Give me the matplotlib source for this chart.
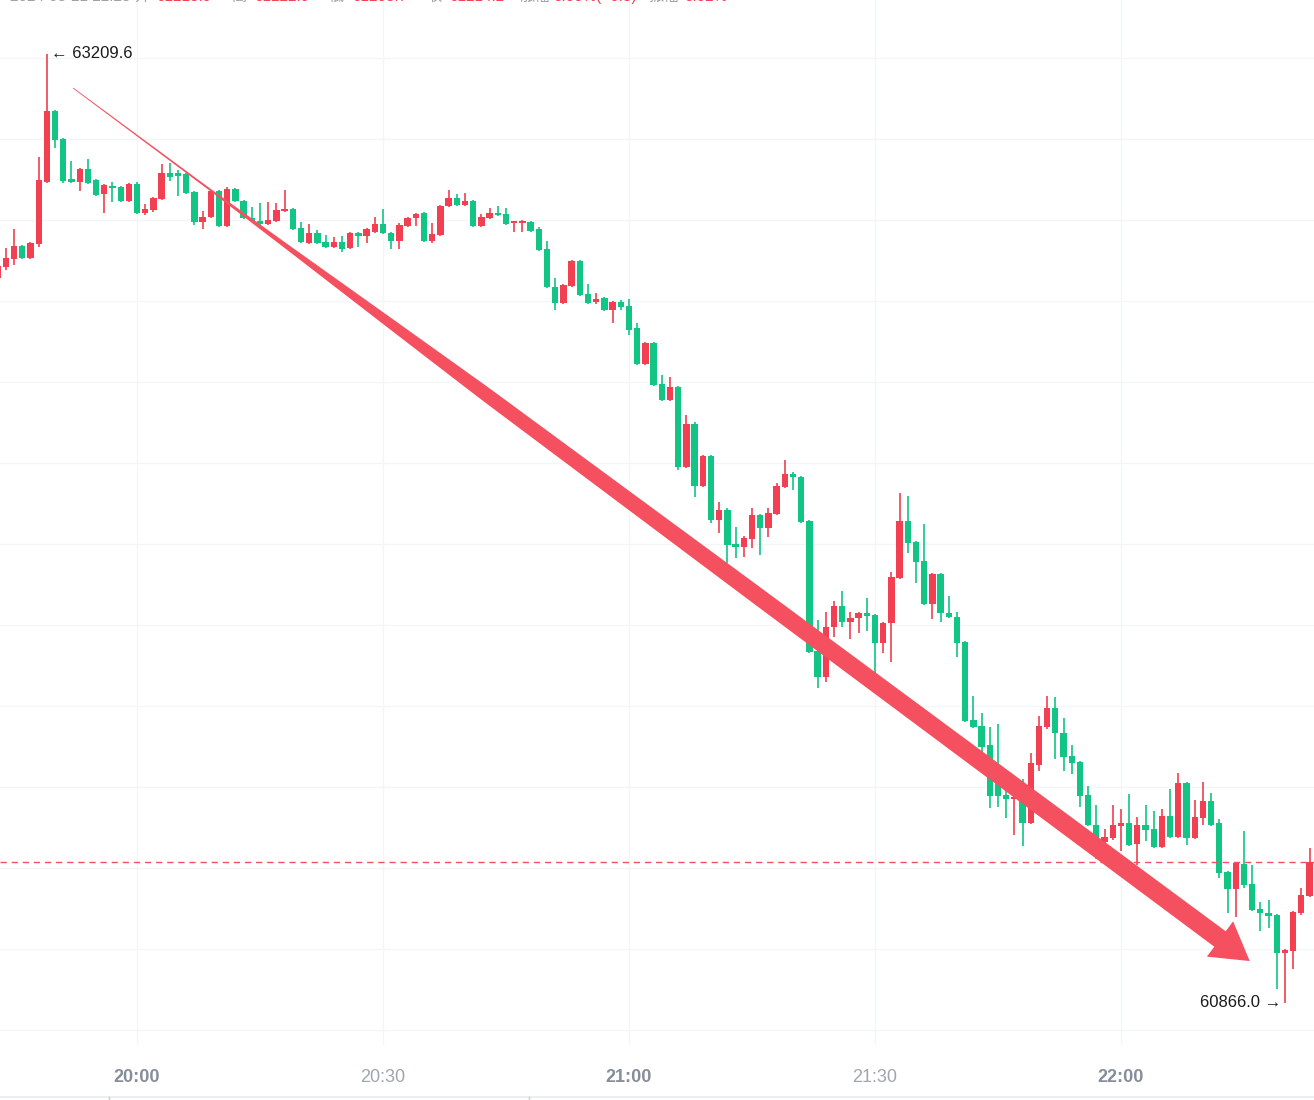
import numpy as np
import pandas as pd
import matplotlib
matplotlib.use('Agg')
from matplotlib import pyplot as plt
from matplotlib.patches import Polygon
from matplotlib.transforms import IdentityTransform

# 1-minute candles, 19:43 .. 22:23
times = pd.date_range('2024-03-21 19:43', '2024-03-21 22:23', freq='1min')

open_ = [62656.3, 62683.5, 62703.3, 62735.4, 62705.7, 62740.3, 62893.5, 63068.8, 62999.7, 62900.9,
         62893.5, 62925.6, 62898.4, 62863.8, 62883.5, 62881.0, 62846.5, 62888.5, 62816.9, 62824.3,
         62851.5, 62915.7, 62915.7, 62913.2, 62868.8, 62794.7, 62807.0, 62871.2, 62784.8, 62876.2,
         62846.5, 62804.5, 62797.1, 62789.8, 62797.1, 62821.8, 62826.8, 62779.8, 62742.8, 62767.5,
         62745.3, 62732.9, 62745.3, 62730.4, 62767.5, 62760.1, 62770.0, 62789.8, 62767.5, 62747.7,
         62784.8, 62804.5, 62816.9, 62747.7, 62762.6, 62834.2, 62853.9, 62836.7, 62846.5, 62784.8,
         62804.5, 62816.9, 62814.4, 62792.2, 62792.2, 62794.7, 62777.4, 62728.0, 62634.1, 62594.6,
         62636.6, 62698.3, 62616.8, 62597.1, 62606.9, 62577.3, 62597.1, 62587.2, 62532.8, 62443.9,
         62495.8, 62394.5, 62355.0, 62387.1, 62189.5, 62295.7, 62142.6, 62216.7, 62058.6, 62083.3,
         61999.3, 61991.9, 62011.7, 62070.9, 62038.8, 62073.4, 62140.1, 62172.2, 62164.8, 62056.1,
         61735.0, 61670.8, 61794.3, 61846.2, 61806.7, 61816.5, 61828.9, 61824.0, 61754.8, 61804.2,
         61915.4, 62056.1, 62004.3, 61957.3, 61851.1, 61925.2, 61828.9, 61819.1, 61757.3, 61564.6,
         61549.8, 61502.9, 61416.4, 61379.4, 61369.5, 61369.5, 61310.2, 61453.5, 61547.3, 61594.2,
         61532.5, 61475.7, 61460.9, 61379.4, 61305.3, 61263.3, 61273.1, 61302.8, 61310.2, 61258.3,
         61305.3, 61295.4, 61250.9, 61327.5, 61275.6, 61409.0, 61273.1, 61322.5, 61364.5, 61310.2,
         61189.2, 61147.2, 61209.0, 61159.5, 61097.8, 61087.9, 61083.0, 60989.1, 60994.0, 61087.9,
         61129.9]
high = [62695.9, 62730.4, 62777.4, 62737.8, 62745.3, 62955.2, 63209.6, 63071.3, 63002.1, 62945.3,
        62928.0, 62950.3, 62900.9, 62888.5, 62893.5, 62883.5, 62891.0, 62893.5, 62839.1, 62856.4,
        62937.9, 62940.4, 62923.1, 62915.7, 62871.2, 62821.8, 62873.7, 62873.7, 62881.1, 62878.6,
        62849.0, 62831.7, 62841.6, 62844.1, 62841.6, 62873.7, 62829.2, 62794.7, 62789.8, 62774.9,
        62762.6, 62757.6, 62760.1, 62770.0, 62769.0, 62779.8, 62807.0, 62826.8, 62770.0, 62792.2,
        62807.0, 62816.9, 62819.4, 62792.2, 62836.7, 62873.7, 62863.8, 62866.3, 62849.0, 62814.4,
        62829.2, 62834.2, 62829.2, 62798.0, 62799.6, 62797.1, 62782.3, 62747.7, 62656.3, 62641.5,
        62700.8, 62700.8, 62641.5, 62619.3, 62609.4, 62599.5, 62602.0, 62604.5, 62545.2, 62498.3,
        62498.3, 62416.8, 62411.8, 62389.6, 62317.9, 62300.7, 62219.2, 62219.2, 62103.1, 62088.2,
        62041.3, 62019.1, 62088.2, 62073.4, 62088.2, 62150.0, 62206.8, 62177.2, 62167.3, 62058.6,
        61811.6, 61831.4, 61858.5, 61883.2, 61831.4, 61831.4, 61865.9, 61826.4, 61806.7, 61930.2,
        62125.3, 62117.9, 62006.7, 62048.7, 61927.7, 61927.7, 61870.9, 61831.4, 61759.7, 61623.9,
        61581.9, 61547.3, 61554.7, 61394.2, 61376.9, 61418.9, 61483.1, 61574.5, 61623.9, 61621.4,
        61569.5, 61502.9, 61463.3, 61401.6, 61354.7, 61295.4, 61354.7, 61344.8, 61381.8, 61325.0,
        61354.7, 61339.8, 61344.8, 61394.2, 61433.7, 61411.5, 61367.0, 61411.5, 61384.3, 61320.1,
        61191.6, 61213.9, 61290.4, 61206.5, 61115.1, 61120.0, 61085.4, 60998.9, 61092.8, 61149.6,
        61248.4]
low = [62621.8, 62676.1, 62688.4, 62703.3, 62703.3, 62732.9, 62891.0, 62977.4, 62891.0, 62891.0,
       62871.2, 62888.5, 62858.9, 62816.9, 62844.1, 62844.1, 62844.1, 62814.4, 62812.0, 62819.4,
       62849.0, 62895.9, 62858.9, 62863.8, 62787.3, 62777.4, 62804.5, 62782.3, 62782.3, 62844.1,
       62802.1, 62794.7, 62787.3, 62787.3, 62794.7, 62819.4, 62774.9, 62742.8, 62740.3, 62740.3,
       62730.4, 62730.4, 62720.6, 62728.0, 62732.9, 62742.8, 62767.5, 62765.0, 62728.0, 62728.0,
       62782.3, 62784.8, 62745.3, 62742.8, 62760.1, 62831.7, 62834.2, 62834.2, 62782.3, 62782.3,
       62802.1, 62809.5, 62787.3, 62770.0, 62770.0, 62770.0, 62723.0, 62631.6, 62577.3, 62592.1,
       62634.1, 62611.9, 62592.1, 62592.1, 62574.8, 62545.2, 62577.3, 62515.6, 62441.5, 62441.5,
       62389.6, 62352.5, 62352.5, 62182.1, 62187.0, 62115.3, 62140.1, 62051.2, 62026.5, 61952.4,
       61964.7, 61967.2, 61989.4, 61972.2, 62016.6, 62070.9, 62137.6, 62132.7, 62051.2, 61730.1,
       61643.6, 61658.5, 61769.6, 61794.3, 61764.7, 61779.5, 61784.4, 61680.7, 61730.1, 61707.9,
       61912.9, 61977.1, 61903.0, 61848.7, 61814.1, 61806.7, 61816.5, 61720.2, 61559.7, 61544.8,
       61485.6, 61347.2, 61349.7, 61322.5, 61280.6, 61253.4, 61307.7, 61438.6, 61542.4, 61468.3,
       61438.6, 61430.3, 61349.7, 61302.8, 61221.3, 61223.7, 61268.2, 61241.1, 61253.4, 61206.5,
       61265.7, 61248.4, 61248.4, 61273.1, 61273.1, 61255.9, 61270.7, 61305.3, 61302.8, 61174.3,
       61087.9, 61078.0, 61149.6, 61092.8, 61043.4, 61050.8, 60900.2, 60866.0, 60949.6, 61083.0,
       61127.4]
close = [62686.0, 62705.7, 62735.4, 62705.7, 62742.8, 62898.4, 63068.8, 62997.2, 62895.9, 62893.5,
         62925.6, 62891.0, 62861.3, 62885.9, 62878.6, 62846.5, 62888.5, 62816.9, 62826.8, 62853.9,
         62915.7, 62905.8, 62908.3, 62866.3, 62794.7, 62807.0, 62871.2, 62784.8, 62876.2, 62846.5,
         62804.5, 62797.1, 62789.8, 62799.6, 62824.3, 62826.8, 62777.4, 62745.3, 62767.5, 62742.8,
         62732.9, 62745.3, 62728.0, 62767.5, 62760.1, 62777.4, 62789.8, 62767.5, 62747.7, 62787.3,
         62804.5, 62814.4, 62747.7, 62765.0, 62834.2, 62853.9, 62836.7, 62846.5, 62784.8, 62807.0,
         62816.9, 62812.0, 62789.8, 62797.1, 62797.1, 62772.4, 62725.5, 62634.1, 62594.6, 62639.1,
         62698.3, 62614.4, 62594.6, 62604.5, 62577.3, 62597.1, 62584.7, 62527.9, 62443.9, 62495.8,
         62392.1, 62355.0, 62387.1, 62189.5, 62295.7, 62142.6, 62216.7, 62058.6, 62083.3, 61996.9,
         61991.9, 62014.1, 62070.9, 62038.8, 62075.9, 62142.6, 62172.2, 62164.8, 62053.7, 61732.6,
         61670.8, 61794.3, 61846.2, 61806.7, 61816.5, 61828.9, 61821.5, 61754.8, 61804.2, 61917.8,
         62056.1, 62001.8, 61954.9, 61851.1, 61925.2, 61828.9, 61819.1, 61754.8, 61562.1, 61547.3,
         61497.9, 61376.9, 61376.9, 61369.5, 61374.4, 61310.2, 61458.4, 61549.8, 61594.2, 61532.5,
         61473.2, 61458.4, 61376.9, 61305.3, 61268.2, 61275.6, 61305.3, 61310.2, 61255.9, 61305.3,
         61292.9, 61250.9, 61327.5, 61275.6, 61409.0, 61273.1, 61325.0, 61364.5, 61305.3, 61186.7,
         61147.2, 61211.4, 61157.1, 61095.3, 61087.9, 61080.5, 60989.1, 60996.5, 61090.4, 61132.4,
         61214.2]

tick_labels = ['20:00', '20:30', '21:00', '21:30', '22:00']
tick_hour = [True, False, True, False, True]
grid_levels = [60800, 61000, 61200, 61400, 61600, 61800, 62000, 62200, 62400, 62600, 62800, 63000, 63200]

# header row (only its lower edge shows in the picture)
header = [('2024-03-21 22:23', '#9aa0aa'), ('开', '#9aa0aa'), ('61213.9', '#f23f52'),
          ('高', '#9aa0aa'), ('61222.9', '#f23f52'), ('低', '#9aa0aa'), ('61208.7', '#f23f52'),
          ('收', '#9aa0aa'), ('61214.2', '#f23f52'), ('涨幅', '#9aa0aa'), ('0.00%(+0.3)', '#f23f52'),
          ('振幅', '#9aa0aa'), ('0.02%', '#f23f52')]
header_x = [130, 134, 156, 231, 254, 329, 352, 426, 449, 520, 553, 648, 684]

# drawn arrow (annotation), start point and tip in (minute, price)
arrow_start = (9.2, 63125.6)
arrow_tip = (152.7, 60969.3)

UP, DOWN = '#f23f52', '#12c584'
W, H = 1314, 1100

o, h, l, c = map(np.array, (open_, high, low, close))
x = ((times - times[0]) / pd.Timedelta('1min')).to_numpy()
col = np.where(c >= o, UP, DOWN)

fig = plt.figure(figsize=(W / 100, H / 100), dpi=100)
ax = fig.add_axes([0, 1 - 1045 / H, 1, 1045 / H])
ax.set_xlim(0.29, 160.54)
ax.set_ylim(60761.9, 63343.0)
for s in ax.spines.values():
    s.set_visible(False)
ax.set_yticks([])

for g in grid_levels:
    ax.axhline(g, color='#f4f5f7', lw=1, zorder=0)

tick_x = [((pd.Timestamp('2024-03-21 ' + t) - times[0]) / pd.Timedelta('1min')) for t in tick_labels]
for tx in tick_x:
    ax.axvline(tx, color='#f4f5f7', lw=1, zorder=0)
ax.set_xticks(tick_x)
ax.set_xticklabels(tick_labels, family='Liberation Sans', fontsize=13)
for lab, hr in zip(ax.get_xticklabels(), tick_hour):
    lab.set_fontweight('bold' if hr else 'normal')
    lab.set_color('#878e9a' if hr else '#a0a6b0')
ax.tick_params(axis='x', length=0, pad=17)

# candles
ax.vlines(x, l, h, colors=col, lw=1.2, zorder=2)
body = np.maximum(np.abs(c - o), 3.0)
ax.bar(x, body, bottom=np.minimum(o, c), width=0.76, color=col, lw=0, zorder=3)

# last price line
ax.axhline(c[-1], color='#f0505f', lw=1, ls=(0, (4.5, 3.5)), zorder=4)

# max / min labels
ih, il = int(np.argmax(h)), int(np.argmin(l))
ax.annotate('\u2190 ' + f'{h[ih]:.1f}', (x[ih], h[ih]), xytext=(4, 1), textcoords='offset pixels',
            ha='left', va='center', fontsize=12, color='#1a1a1a', family=['Liberation Sans', 'DejaVu Sans'])
ax.annotate(f'{l[il]:.1f}' + ' \u2192', (x[il], l[il]), xytext=(-4, 0), textcoords='offset pixels',
            ha='right', va='center', fontsize=12, color='#1a1a1a', family=['Liberation Sans', 'DejaVu Sans'])

# tapered arrow drawn over the chart
p0 = ax.transData.transform(arrow_start)
p1 = ax.transData.transform(arrow_tip)
d = p1 - p0
L = np.hypot(*d)
u = d / L
n = np.array([-u[1], u[0]])
head_len, head_half = 37, 22
shaft_len = L - head_len
fr = np.array([0, 0.12, 0.19, 0.28, 0.36, 0.6, 1.0])
hw = np.array([0.4, 1.0, 2.5, 5.0, 7.0, 8.5, 9.6])
ss = np.linspace(0, 1, 60)
half = np.interp(ss, fr, hw)
centre = p0 + np.outer(ss * shaft_len, u)
side_a = centre + np.outer(half, n)
side_b = centre - np.outer(half, n)
base = p0 + u * shaft_len
pts = np.vstack([side_a, base + n * head_half, p1, base - n * head_half, side_b[::-1]])
ax.add_patch(Polygon(pts, closed=True, transform=IdentityTransform(), facecolor='#f4505f',
                     edgecolor='none', zorder=6))

for (txt, cl), hx in zip(header, header_x):
    fig.text(hx / W, 1 + 3 / H, txt, ha='right' if hx == header_x[0] else 'left', va='center',
             fontsize=11, color=cl, family=['Liberation Sans', 'Noto Sans CJK SC'])

# bottom separator
fig.add_artist(plt.Line2D([0, 1], [1 - 1097 / H] * 2, color='#eceef1', lw=1.5, transform=fig.transFigure))
for bx in (109, 529):
    fig.add_artist(plt.Line2D([bx / W] * 2, [0, 3 / H], color='#c8ccd2', lw=1, transform=fig.transFigure))

fig.savefig('out.png', dpi=100)
